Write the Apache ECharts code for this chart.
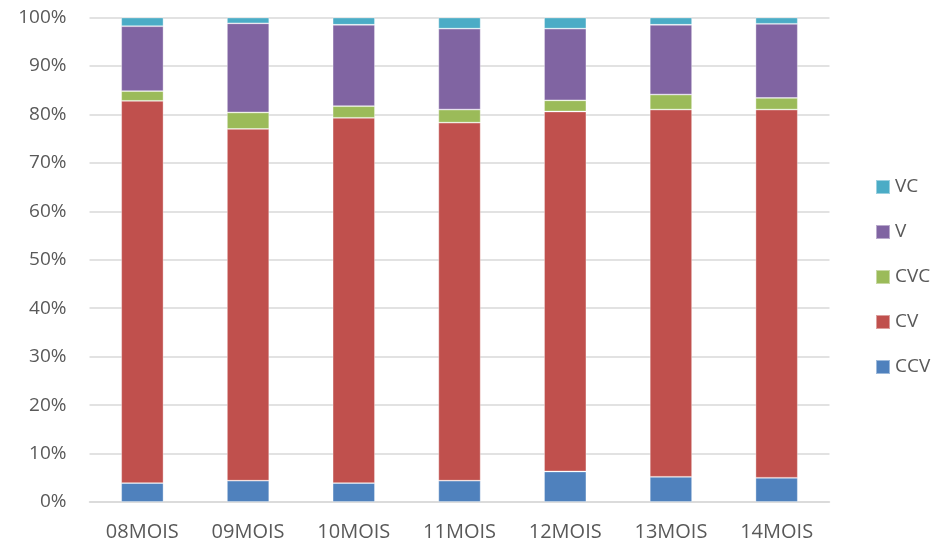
<!DOCTYPE html>
<html>
<head>
<meta charset="utf-8">
<script src="https://cdn.jsdelivr.net/npm/echarts@6/dist/echarts.min.js"></script>
<style>
  html, body { margin: 0; padding: 0; background: #ffffff; }
  #chart { width: 932px; height: 546px; }
</style>
</head>
<body>
<div id="chart"></div>
<script>
// Age groups on the horizontal axis
const categories = ['08MOIS', '09MOIS', '10MOIS', '11MOIS', '12MOIS', '13MOIS', '14MOIS'];

// Share of each syllable type, in percent (stacked to 100%)
const ccv = [3.9, 4.4, 3.9, 4.4, 6.3, 5.2, 5.0];
const cv  = [78.9, 72.6, 75.4, 73.9, 74.3, 75.8, 76.0];
const cvc = [2.0, 3.4, 2.4, 2.7, 2.3, 3.1, 2.4];
const v   = [13.4, 18.4, 16.8, 16.7, 14.8, 14.4, 15.3];
const vc  = [1.8, 1.2, 1.5, 2.3, 2.3, 1.5, 1.3];

// Legend order, top to bottom
const legendOrder = ['VC', 'V', 'CVC', 'CV', 'CCV'];

const font = '"Open Sans", "Noto Sans", sans-serif';
const textColor = '#595959';

function barSeries(name, data, color) {
  return {
    name: name,
    type: 'bar',
    stack: 'total',
    data: data,
    barCategoryGap: '60%',
    itemStyle: {
      color: color,
      borderColor: 'rgba(255,255,255,0.45)',
      borderWidth: 0.8
    }
  };
}

const chart = echarts.init(document.getElementById('chart'), null, { renderer: 'canvas' });
chart.setOption({
  animation: false,
  backgroundColor: '#ffffff',
  textStyle: { fontFamily: font },
  grid: { left: 89.5, right: 102.5, top: 17.5, bottom: 44, containLabel: false },
  legend: {
    orient: 'vertical',
    left: 870,
    top: 172,
    data: legendOrder,
    icon: 'rect',
    itemWidth: 14,
    itemHeight: 14,
    itemGap: 25,
    textStyle: { color: textColor, fontSize: 19, fontFamily: font, lineHeight: 20 },
    selectedMode: false
  },
  xAxis: {
    type: 'category',
    data: categories,
    axisLine: { show: true, lineStyle: { color: '#d9d9d9', width: 1.5 } },
    axisTick: { show: false },
    axisLabel: { color: textColor, fontSize: 20, fontFamily: font, margin: 20 }
  },
  yAxis: {
    type: 'value',
    min: 0,
    max: 100,
    interval: 10,
    axisLine: { show: false },
    axisTick: { show: false },
    splitLine: { lineStyle: { color: '#d9d9d9', width: 1.5 } },
    axisLabel: {
      color: textColor,
      fontSize: 19,
      fontFamily: font,
      margin: 23,
      formatter: '{value}%'
    }
  },
  series: [
    barSeries('CCV', ccv, '#4F81BD'),
    barSeries('CV', cv, '#C0504D'),
    barSeries('CVC', cvc, '#9BBB59'),
    barSeries('V', v, '#8064A2'),
    barSeries('VC', vc, '#4BACC6')
  ]
});
</script>
</body>
</html>
